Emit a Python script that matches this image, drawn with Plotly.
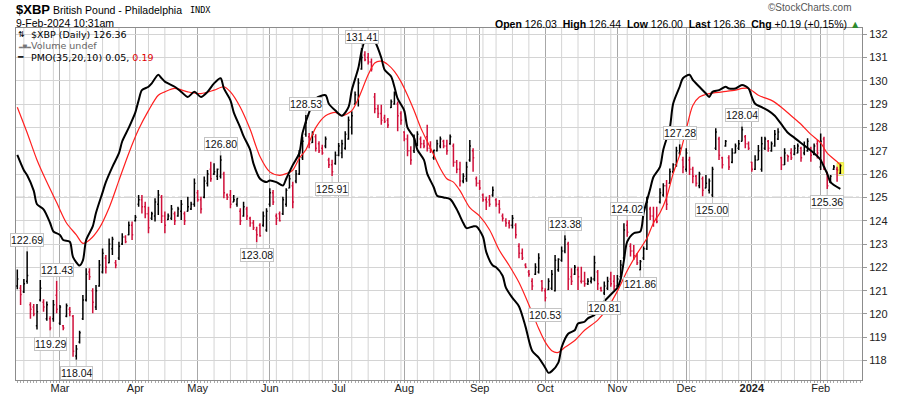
import plotly.graph_objects as go
import pandas as pd

# ---------------- data ----------------
start_date = "2023-02-09"
calendar_end = "2024-02-28"
market_holidays = ["2023-02-20", "2023-04-07", "2023-05-29", "2023-06-19", "2023-07-04",
                   "2023-09-04", "2023-11-23", "2023-12-25", "2024-01-01", "2024-01-15",
                   "2024-02-19"]

opens = [121.2, 121.1, 120.95, 121.4, 120.4, 120.3, 119.5, 120.6, 120.5, 119.8,
         119.8, 119.8, 120.8, 119.6, 119.5, 119.9, 120.2, 119.9, 118.2, 118.8,
         119.8, 120.6, 121.8, 121.0, 120.3, 121.2, 121.8, 122.4, 122.2, 122.8,
         122.2, 122.4, 123.0, 123.3, 123.4, 123.8, 124.0, 124.7, 124.9, 124.6,
         124.3, 124.1, 124.2, 124.7, 125.0, 124.2, 124.05, 124.1, 124.3, 124.2,
         124.4, 124.3, 124.4, 124.5, 124.7, 125.2, 124.9, 125.0, 125.6, 126.2,
         126.0, 125.9, 125.9, 126.0, 125.1, 125.1, 124.8, 124.7, 124.4, 124.2,
         124.5, 124.1, 123.9, 123.6, 123.8, 123.8, 123.6, 124.7, 125.2, 124.2,
         124.3, 124.3, 124.7, 125.4, 125.5, 125.7, 126.0, 126.7, 127.7, 127.6,
         127.35, 127.6, 127.3, 127.1, 127.2, 126.6, 126.4, 126.45, 126.8, 126.9,
         127.1, 127.5, 128.0, 129.0, 129.2, 130.5, 131.1, 131.0, 130.8, 129.3,
         128.8, 128.6, 128.4, 128.3, 128.85, 129.0, 129.0, 128.6, 127.8, 127.5,
         127.0, 127.0, 127.3, 127.5, 127.3, 127.6, 127.1, 126.7, 127.0, 127.2,
         127.4, 127.2, 127.3, 127.2, 126.5, 126.2, 125.7, 125.8, 126.6, 127.0,
         125.8, 125.6, 125.1, 124.9, 124.9, 125.1, 124.9, 124.7, 124.2, 124.0,
         123.9, 123.8, 123.8, 122.9, 122.6, 122.1, 121.8, 121.4, 121.7, 121.8,
         121.4, 121.0, 121.05, 121.1, 121.0, 121.9, 122.3, 122.7, 123.0, 121.6,
         121.7, 121.9, 121.4, 121.4, 121.3, 121.4, 121.5, 121.8, 121.1, 120.9,
         121.1, 121.5, 121.4, 121.2, 121.6, 122.4, 123.8, 122.9, 122.7, 122.5,
         121.9, 122.4, 122.8, 124.5, 124.2, 124.1, 124.8, 125.1, 125.5, 125.6,
         126.1, 126.4, 126.9, 126.6, 126.2, 126.6, 126.2, 125.9, 125.5, 125.8,
         125.4, 125.3, 125.1, 127.1, 127.5, 126.7, 127.2, 126.7, 126.5, 126.9,
         127.1, 127.4, 127.6, 127.3, 126.5, 126.2, 126.6, 126.2, 127.1, 127.4,
         127.0, 127.2, 127.5, 126.7, 126.4, 126.8, 126.9, 126.85, 126.9, 127.1,
         126.9, 127.0, 127.1, 126.85, 127.3, 126.3, 127.5, 126.0, 125.65, 126.2,
         126.2, 126.03]

highs = [121.91, 121.24, 121.5, 122.69, 120.5, 120.43, 120.43, 121.46, 120.63, 120.53,
         119.9, 120.6, 121.43, 120.38, 119.53, 120.45, 120.3, 119.96, 118.67, 119.28,
         120.81, 121.96, 121.96, 121.1, 121.24, 122.31, 122.81, 122.53, 123.24, 123.31,
         122.31, 123.1, 123.46, 123.38, 123.96, 123.96, 124.24, 125.1, 125.1, 124.81,
         124.6, 124.38, 124.96, 125.31, 125.1, 124.39, 124.31, 124.67, 124.39, 124.6,
         124.89, 124.39, 125.03, 124.81, 125.81, 125.31, 125.03, 125.89, 126.17, 126.53,
         126.46, 126.24, 126.8, 126.1, 125.17, 125.31, 125.1, 124.96, 124.53, 124.81,
         124.6, 124.17, 124.03, 123.74, 123.89, 124.39, 124.53, 125.39, 125.31, 124.31,
         124.39, 125.03, 125.39, 125.96, 125.67, 126.17, 127.03, 127.6, 128.53, 127.76,
         127.83, 127.7, 127.4, 127.26, 127.61, 126.7, 126.61, 126.97, 127.33, 127.47,
         127.83, 128.47, 128.69, 129.54, 130.11, 131.41, 131.26, 131.19, 130.95, 129.47,
         128.97, 128.97, 128.54, 128.4, 129.19, 129.54, 129.11, 128.69, 127.83, 127.69,
         127.19, 127.69, 127.83, 127.61, 127.47, 128.11, 127.4, 127.04, 127.47, 127.61,
         127.47, 127.47, 127.69, 127.31, 126.6, 126.53, 126.03, 126.53, 127.46, 127.1,
         125.89, 125.74, 125.17, 125.03, 125.1, 125.46, 124.96, 124.89, 124.31, 124.1,
         124.03, 124.24, 123.89, 123.03, 122.81, 122.17, 121.89, 121.53, 122.17, 122.6,
         121.46, 121.1, 121.53, 121.89, 122.53, 122.39, 122.89, 123.38, 123.1, 121.96,
         122.1, 122.03, 122.03, 121.81, 121.53, 121.6, 122.5, 121.89, 121.17, 121.39,
         121.6, 121.81, 121.67, 121.67, 122.31, 123.89, 124.02, 123.03, 122.96, 122.6,
         122.31, 122.89, 125.03, 124.6, 124.6, 124.6, 125.39, 125.6, 125.74, 126.24,
         126.46, 127.17, 127.28, 126.74, 127.1, 126.74, 126.31, 125.96, 126.1, 125.89,
         125.96, 125.81, 126.31, 127.96, 127.6, 126.74, 127.46, 126.81, 127.1, 127.31,
         127.46, 128.04, 127.67, 127.39, 126.53, 126.81, 127.24, 127.6, 127.6, 127.46,
         127.39, 127.89, 127.96, 126.74, 127.1, 126.81, 127.1, 127.24, 127.31, 127.17,
         127.39, 127.53, 127.17, 127.31, 127.46, 127.74, 127.6, 126.1, 125.96, 126.39,
         126.31, 126.44]

lows = [121.06, 120.38, 120.9, 121.3, 119.8, 119.9, 119.34, 120.53, 120.1, 119.71,
        119.29, 119.67, 120.03, 119.53, 119.3, 119.86, 119.9, 118.17, 118.04, 118.74,
        119.74, 120.53, 121.46, 120.03, 120.17, 121.17, 121.74, 121.74, 122.17, 122.53,
        121.96, 122.31, 122.96, 123.03, 123.38, 123.17, 123.96, 124.6, 124.31, 124.1,
        123.46, 124.03, 123.96, 124.24, 123.9, 123.46, 124.03, 124.03, 123.81, 124.17,
        124.03, 123.81, 124.39, 124.46, 124.6, 124.81, 124.31, 124.96, 125.46, 125.67,
        125.96, 125.74, 125.81, 124.96, 124.89, 124.53, 124.8, 124.6, 123.81, 124.17,
        124.03, 123.74, 123.6, 123.08, 123.31, 123.74, 123.53, 124.6, 124.67, 123.81,
        123.96, 124.24, 124.6, 125.39, 124.53, 125.6, 125.96, 126.6, 127.6, 127.1,
        127.33, 126.97, 126.9, 126.83, 127.11, 126.26, 125.91, 126.4, 126.76, 126.68,
        127.04, 127.47, 127.69, 128.97, 128.9, 130.47, 130.83, 130.69, 130.4, 128.61,
        128.4, 128.11, 128.19, 127.97, 128.83, 128.97, 127.83, 128.11, 127.4, 126.76,
        126.4, 126.9, 127.19, 127.11, 127.11, 126.97, 126.9, 126.61, 126.97, 127.11,
        127.11, 126.83, 127.26, 126.31, 126.03, 125.46, 125.6, 125.67, 126.53, 126.1,
        125.46, 125.31, 124.81, 124.46, 124.6, 125.03, 124.6, 124.31, 123.96, 123.74,
        123.67, 123.67, 123.24, 122.39, 122.31, 121.96, 121.6, 121.03, 121.67, 121.74,
        120.96, 120.53, 121.03, 121.03, 120.96, 121.81, 122.24, 122.6, 121.03, 121.24,
        121.67, 121.03, 121.31, 121.17, 121.24, 121.31, 121.4, 121.03, 120.96, 120.81,
        121.03, 121.17, 121.03, 121.17, 121.6, 122.31, 123.31, 122.46, 122.31, 122.1,
        121.86, 122.31, 122.74, 124.03, 123.74, 123.89, 124.74, 125.03, 124.46, 125.6,
        126.03, 126.31, 126.81, 126.03, 126.1, 125.96, 125.6, 125.46, 125.39, 125.05,
        125.39, 125.17, 125.0, 127.03, 126.6, 126.24, 127.17, 126.17, 126.46, 126.89,
        127.03, 127.39, 127.1, 127.03, 126.1, 126.17, 126.6, 126.1, 127.03, 126.96,
        126.96, 127.17, 127.46, 126.17, 126.39, 126.53, 126.6, 126.81, 126.89, 126.53,
        126.81, 126.96, 126.53, 126.81, 126.67, 126.17, 126.17, 125.36, 125.6, 126.17,
        125.67, 126.0]

closes = [121.5, 120.84, 121.3, 121.65, 120.2, 120.0, 120.1, 121.1, 120.3, 120.4,
          119.4, 120.4, 120.2, 120.3, 119.4, 120.35, 120.1, 118.4, 118.5, 119.2,
          120.6, 121.7, 121.6, 120.5, 121.0, 122.1, 122.6, 122.0, 123.0, 123.2,
          122.1, 122.9, 123.3, 123.1, 123.8, 123.4, 124.15, 124.9, 124.6, 124.3,
          123.7, 124.3, 124.8, 125.1, 124.2, 123.8, 124.2, 124.5, 124.0, 124.5,
          124.7, 124.0, 124.6, 124.7, 125.6, 124.9, 124.5, 125.7, 126.0, 125.8,
          126.1, 126.2, 126.6, 125.2, 125.0, 124.7, 124.9, 124.95, 124.0, 124.6,
          124.2, 123.9, 123.7, 123.4, 123.35, 124.2, 124.4, 125.2, 124.8, 124.1,
          124.0, 124.9, 125.3, 125.8, 124.8, 126.0, 126.9, 127.4, 128.2, 127.3,
          127.7, 127.1, 127.0, 126.9, 127.5, 126.4, 126.1, 126.8, 127.2, 127.3,
          127.7, 128.3, 128.5, 129.4, 129.9, 131.0, 130.9, 130.8, 130.5, 128.8,
          128.6, 128.3, 128.25, 128.1, 129.1, 129.4, 128.5, 128.3, 127.5, 127.0,
          126.6, 127.5, 127.7, 127.3, 127.2, 127.1, 127.0, 127.02, 127.3, 127.5,
          127.2, 127.0, 127.6, 126.5, 126.2, 125.7, 125.9, 126.3, 127.2, 126.7,
          125.6, 125.4, 124.9, 124.8, 124.7, 125.3, 124.7, 124.5, 124.1, 123.9,
          123.8, 124.1, 123.4, 122.6, 122.4, 122.0, 121.7, 121.2, 122.0, 122.4,
          121.1, 120.7, 121.4, 121.7, 122.3, 122.35, 122.7, 123.2, 121.5, 121.4,
          122.0, 121.6, 121.4, 121.3, 121.4, 121.5, 122.2, 121.3, 121.0, 121.2,
          121.4, 121.3, 121.2, 121.5, 122.1, 123.6, 123.5, 122.7, 122.5, 122.2,
          122.25, 122.8, 124.8, 124.2, 124.0, 123.95, 125.2, 125.5, 124.7, 126.1,
          126.4, 127.0, 127.1, 126.3, 126.9, 126.2, 125.9, 125.6, 126.0, 125.3,
          125.6, 125.7, 126.2, 127.8, 126.8, 126.4, 127.4, 126.3, 126.9, 127.2,
          127.3, 127.9, 127.3, 127.1, 126.2, 126.6, 127.0, 127.3, 127.5, 127.1,
          127.3, 127.7, 127.8, 126.4, 126.9, 126.75, 126.7, 127.1, 127.2, 126.7,
          127.2, 127.4, 126.8, 127.2, 126.9, 127.4, 126.3, 125.5, 125.9, 126.3,
          126.17, 126.36]

# PMO(35,20,10) line and its signal line (PMO units)
pmo_idx = [0, 2, 3, 5, 6, 8, 10, 11, 13, 14, 16, 17, 19, 20, 21, 23, 24, 26, 27, 29,
           31, 32, 34, 36, 37, 38, 40, 41, 43, 44, 45, 48, 50, 52, 54, 56, 58, 60, 62, 63,
           65, 66, 68, 69, 71, 72, 74, 76, 77, 79, 81, 82, 84, 86, 87, 89, 91, 94, 95, 97,
           99, 101, 102, 104, 105, 106, 108, 109, 111, 112, 114, 115, 116, 118, 119, 121, 122, 124, 125, 127,
           128, 130, 132, 134, 136, 137, 139, 140, 142, 143, 145, 146, 148, 149, 151, 153, 155, 157, 159, 161,
           162, 163, 165, 166, 168, 170, 171, 173, 174, 176, 179, 181, 183, 184, 185, 186, 188, 190, 191, 192,
           193, 194, 196, 197, 199, 200, 202, 203, 205, 206, 208, 210, 211, 212, 214, 216, 217, 219, 221, 223,
           224, 225, 227, 229, 231, 233, 235, 237, 239, 241, 243, 245, 246, 247, 248, 251]
pmo_vals = [0.25, 0.16, 0.13, 0.04, -0.04, -0.07, -0.15, -0.20, -0.22, -0.25, -0.26, -0.35, -0.40, -0.37, -0.25, -0.17, -0.09, 0.03, 0.09, 0.18,
            0.26, 0.33, 0.41, 0.50, 0.57, 0.63, 0.65, 0.67, 0.72, 0.70, 0.68, 0.65, 0.62, 0.59, 0.62, 0.59, 0.62, 0.67, 0.70, 0.64,
            0.57, 0.50, 0.41, 0.36, 0.28, 0.20, 0.11, 0.09, 0.10, 0.09, 0.07, 0.11, 0.19, 0.26, 0.38, 0.50, 0.58, 0.60, 0.55, 0.51,
            0.48, 0.53, 0.63, 0.76, 0.86, 0.92, 0.95, 0.92, 0.82, 0.75, 0.71, 0.65, 0.58, 0.51, 0.41, 0.35, 0.28, 0.22, 0.14, 0.06,
            0.01, 0.00, -0.01, -0.07, -0.15, -0.18, -0.17, -0.17, -0.23, -0.32, -0.40, -0.41, -0.46, -0.53, -0.59, -0.64, -0.76, -0.90, -0.94, -1.00,
            -1.03, -1.02, -0.97, -0.88, -0.80, -0.78, -0.74, -0.73, -0.71, -0.69, -0.61, -0.57, -0.53, -0.48, -0.37, -0.26, -0.21, -0.20, -0.09, -0.02,
            0.05, 0.12, 0.18, 0.28, 0.41, 0.55, 0.65, 0.70, 0.72, 0.69, 0.65, 0.61, 0.59, 0.62, 0.63, 0.65, 0.64, 0.64, 0.66, 0.64,
            0.59, 0.55, 0.53, 0.51, 0.48, 0.43, 0.38, 0.35, 0.32, 0.29, 0.26, 0.22, 0.18, 0.14, 0.09, 0.05]

signal_idx = [0, 3, 6, 9, 12, 15, 18, 20, 22, 25, 28, 31, 34, 37, 40, 43, 45, 48, 52, 56,
              60, 63, 65, 68, 71, 74, 77, 80, 82, 84, 86, 88, 91, 94, 97, 99, 102, 104, 107, 109,
              111, 113, 115, 117, 119, 121, 123, 125, 127, 129, 131, 133, 135, 138, 141, 144, 147, 150, 153, 156,
              159, 161, 163, 165, 167, 170, 173, 177, 180, 183, 186, 189, 192, 194, 196, 198, 200, 202, 204, 206,
              208, 211, 215, 219, 221, 223, 226, 230, 233, 236, 239, 242, 245, 247, 250, 251]
signal_vals = [0.53, 0.38, 0.22, 0.09, -0.03, -0.15, -0.22, -0.27, -0.25, -0.18, -0.06, 0.10, 0.26, 0.40, 0.51, 0.60, 0.62, 0.64, 0.62, 0.61,
               0.63, 0.65, 0.62, 0.53, 0.40, 0.24, 0.15, 0.13, 0.14, 0.16, 0.23, 0.28, 0.41, 0.48, 0.50, 0.48, 0.51, 0.58, 0.72, 0.79,
               0.80, 0.78, 0.74, 0.68, 0.60, 0.51, 0.41, 0.33, 0.25, 0.17, 0.11, 0.09, 0.04, -0.06, -0.11, -0.19, -0.31, -0.40, -0.50, -0.63,
               -0.77, -0.85, -0.90, -0.91, -0.88, -0.84, -0.78, -0.72, -0.65, -0.55, -0.43, -0.33, -0.24, -0.15, -0.09, 0.00, 0.14, 0.25, 0.40, 0.54,
               0.59, 0.61, 0.62, 0.63, 0.64, 0.64, 0.60, 0.57, 0.53, 0.48, 0.43, 0.37, 0.32, 0.26, 0.21, 0.19]

high_label_idx = [3, 12, 62, 88, 105, 167, 186, 202, 221]
low_label_idx = [10, 18, 73, 96, 161, 179, 190, 212, 247]

ref_level = 125
y_range = [117.17, 132.26]
pmo_range = [-1.072, 0.995]
x_range = [-0.4, 257.6]

# ---------------- derived ----------------
n = len(closes)
cal = pd.bdate_range(start_date, calendar_end, freq="C", holidays=market_holidays)
xi = list(range(n))

up_i = [i for i in xi if i == 0 or closes[i] >= closes[i - 1]]
dn_i = [i for i in xi if i > 0 and closes[i] < closes[i - 1]]

axis_last = int(x_range[1])
month_starts = [i for i in range(1, axis_last) if cal[i].month != cal[i - 1].month]
month_text = [("<b>%d</b>" % cal[i].year) if cal[i].month == 1 else cal[i].strftime("%b")
              for i in month_starts]
week_starts = [i for i in range(1, axis_last)
               if cal[i].weekday() < cal[i - 1].weekday() and i not in month_starts]

BAR_BLACK = "#000000"
BAR_RED = "#d0103a"
GRID = "#d4d4d4"
MONTH_GRID = "#a8a8a8"
NUMFONT = "Liberation Sans Narrow, Arial Narrow, Liberation Sans, Arial, sans-serif"
FONT = "Liberation Sans, Arial, sans-serif"

fig = go.Figure()


def add_bars(idx, color):
    fig.add_trace(go.Ohlc(
        x=idx,
        open=[opens[i] for i in idx], high=[highs[i] for i in idx],
        low=[lows[i] for i in idx], close=[closes[i] for i in idx],
        increasing=dict(line=dict(color=color, width=1.5)),
        decreasing=dict(line=dict(color=color, width=1.5)),
        tickwidth=0.35, hoverinfo="skip", showlegend=False))


add_bars(up_i, BAR_BLACK)
add_bars(dn_i, BAR_RED)

fig.add_trace(go.Scatter(x=signal_idx, y=signal_vals, yaxis="y2", mode="lines",
                         line=dict(color="#ff1f1f", width=1.2, shape="spline", smoothing=0.8),
                         hoverinfo="skip", showlegend=False))
fig.add_trace(go.Scatter(x=pmo_idx, y=pmo_vals, yaxis="y2", mode="lines",
                         line=dict(color="#000000", width=2, shape="spline", smoothing=0.8),
                         hoverinfo="skip", showlegend=False))

shapes = []
for w in week_starts:
    shapes.append(dict(type="line", xref="x", yref="paper", x0=w, x1=w, y0=0, y1=1,
                       line=dict(color=GRID, width=1), layer="below"))
shapes.append(dict(type="line", xref="paper", yref="y", x0=0, x1=1, y0=ref_level, y1=ref_level,
                   line=dict(color="#666666", width=1, dash="dashdot"), layer="below"))
last = n - 1
shapes.append(dict(type="rect", xref="x", yref="y", x0=last - 1.0, x1=last + 1.0,
                   y0=lows[last] - 0.05, y1=highs[last] + 0.05,
                   fillcolor="#ffff55", line=dict(color="#e6e64a", width=1), layer="below"))

# ---------------- layout ----------------
L, R, T, B = 16, 862, 28, 380


def px(x):
    return (x - L) / (R - L)


def py(y):
    return (B - y) / (B - T)


annotations = []
for i in high_label_idx:
    annotations.append(dict(x=i, y=highs[i], xref="x", yref="y", text="%.2f" % highs[i],
                            showarrow=True, ax=0, ay=-11, arrowhead=0, arrowwidth=1,
                            arrowcolor="#c4c4c4", standoff=0, bgcolor="white",
                            bordercolor="#c4c4c4", borderwidth=1, borderpad=0,
                            font=dict(family=NUMFONT, size=10.5, color="#111")))
for i in low_label_idx:
    annotations.append(dict(x=i, y=lows[i], xref="x", yref="y", text="%.2f" % lows[i],
                            showarrow=True, ax=0, ay=13, arrowhead=0, arrowwidth=1,
                            arrowcolor="#c4c4c4", standoff=0, bgcolor="white",
                            bordercolor="#c4c4c4", borderwidth=1, borderpad=0,
                            font=dict(family=NUMFONT, size=10.5, color="#111")))


def txt(x, y, text, size=11, family=FONT, color="#000", xanchor="left"):
    annotations.append(dict(x=px(x), y=py(y), xref="paper", yref="paper", text=text,
                            showarrow=False, xanchor=xanchor, yanchor="middle",
                            borderpad=0, font=dict(family=family, size=size, color=color)))


chg = closes[-1] - closes[-2]
chg_pct = chg / closes[-2] * 100

txt(15, 9, "<b>$XBP</b>", size=13)
txt(52, 9.5, "British Pound - Philadelphia", size=10.5)
txt(189, 10, "INDX", size=8.5, family="DejaVu Sans Mono")
txt(15, 23, "9-Feb-2024 10:31am", size=10.5)
txt(853, 7, "\u00a9StockCharts.com", size=10, color="#555", xanchor="right")
txt(861, 23.5,
    "<b>Open</b> %.2f  <b>High</b> %.2f  <b>Low</b> %.2f  <b>Last</b> %.2f  <b>Chg</b> %+.2f (%+.2f%%) "
    "<span style='color:#2e8b2e'>\u25b2</span>"
    % (opens[-1], highs[-1], lows[-1], closes[-1], chg, chg_pct),
    size=10.5, xanchor="right")

txt(17, 34, "\u21c5", size=8)
txt(30, 34, "$XBP (Daily) %.2f" % closes[-1], size=9.5, family="DejaVu Sans")
txt(17, 45.5, "\u2582\u2585\u2582", size=5, color="#777")
txt(30, 45.5, "Volume undef", size=9.5, family="DejaVu Sans", color="#666")
txt(16, 57, "\u2501", size=9)
txt(30, 57, "PMO(35,20,10) %.2f, <span style='color:#e00000'>%.2f</span>"
    % (pmo_vals[-1], signal_vals[-1]), size=9.5, family="DejaVu Sans")

fig.update_layout(
    width=900, height=396,
    margin=dict(l=L, r=900 - R, t=T, b=396 - B, autoexpand=False),
    paper_bgcolor="white", plot_bgcolor="white",
    showlegend=False,
    shapes=shapes,
    annotations=annotations,
    xaxis=dict(range=x_range, type="linear", tickmode="array",
               tickvals=month_starts, ticktext=month_text,
               showgrid=True, gridcolor=MONTH_GRID, gridwidth=1,
               ticks="outside", ticklen=2, tickcolor="#999",
               ticklabelstandoff=-4,
               minor=dict(dtick=1, tick0=0, ticks="outside", ticklen=2, tickcolor="#aaa",
                          showgrid=False),
               showline=True, linecolor="#8c8c8c", mirror=True, zeroline=False,
               automargin=False,
               tickfont=dict(family=FONT, size=11, color="#222"),
               rangeslider=dict(visible=False), fixedrange=True),
    yaxis=dict(range=y_range, side="right", tickmode="linear", tick0=0, dtick=1,
               showgrid=True, gridcolor=GRID, gridwidth=1,
               ticks="outside", ticklen=4, tickcolor="#999",
               showline=True, linecolor="#8c8c8c", mirror=True, zeroline=False,
               automargin=False,
               tickfont=dict(family=NUMFONT, size=11, color="#222"), fixedrange=True),
    yaxis2=dict(range=pmo_range, overlaying="y", visible=False, fixedrange=True),
)

fig.write_html("out.html", config={"displayModeBar": False},
               post_script="document.body.style.margin='0px';document.body.style.overflow='hidden';")
